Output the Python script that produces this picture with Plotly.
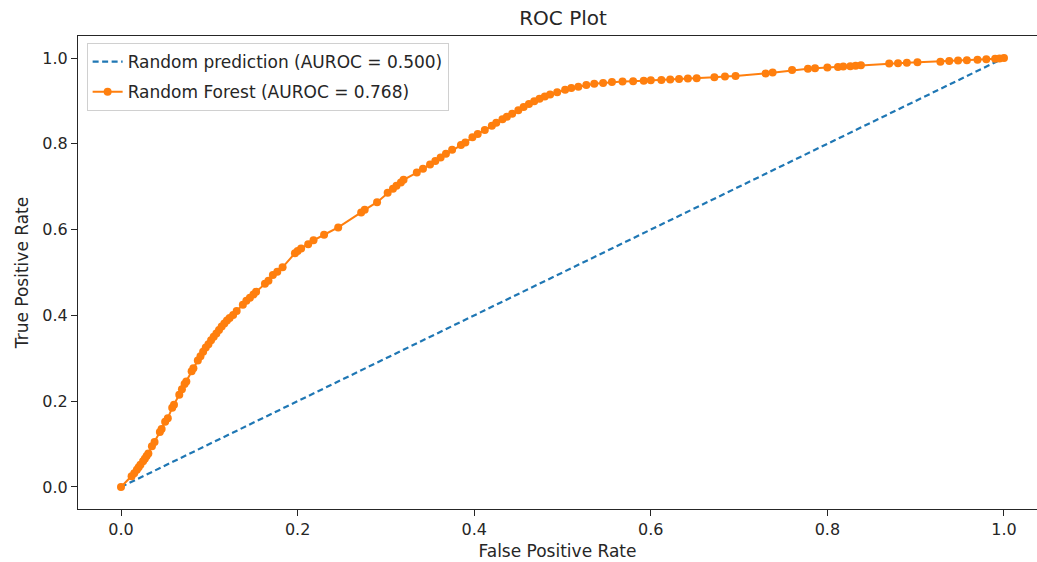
import plotly.graph_objects as go

# Random-prediction baseline
base_fpr = [0.0, 1.0]
base_tpr = [0.0, 1.0]

# Random Forest ROC curve
rf_fpr = [0.000, 0.012, 0.015, 0.018, 0.020, 0.022, 0.025, 0.027, 0.029, 0.031,
          0.035, 0.038, 0.044, 0.046, 0.050, 0.053, 0.058, 0.060, 0.066, 0.069,
          0.072, 0.074, 0.080, 0.082, 0.087, 0.090, 0.093, 0.096, 0.099, 0.102,
          0.105, 0.108, 0.111, 0.114, 0.117, 0.120, 0.123, 0.127, 0.131, 0.138,
          0.142, 0.146, 0.150, 0.153, 0.163, 0.167, 0.172, 0.177, 0.183, 0.197,
          0.200, 0.204, 0.212, 0.218, 0.230, 0.246, 0.272, 0.276, 0.290, 0.302,
          0.308, 0.312, 0.317, 0.320, 0.335, 0.342, 0.350, 0.356, 0.362, 0.368,
          0.375, 0.385, 0.390, 0.398, 0.404, 0.412, 0.420, 0.425, 0.432, 0.437,
          0.443, 0.450, 0.456, 0.462, 0.468, 0.474, 0.480, 0.486, 0.494, 0.503,
          0.510, 0.518, 0.527, 0.536, 0.546, 0.556, 0.568, 0.580, 0.592, 0.600,
          0.612, 0.622, 0.632, 0.642, 0.652, 0.672, 0.684, 0.696, 0.730, 0.738,
          0.760, 0.778, 0.786, 0.800, 0.812, 0.818, 0.826, 0.832, 0.838, 0.870,
          0.880, 0.890, 0.902, 0.928, 0.938, 0.948, 0.958, 0.970, 0.980, 0.990,
          0.995, 1.000]
rf_tpr = [0.000, 0.025, 0.032, 0.040, 0.046, 0.052, 0.060, 0.066, 0.072, 0.078,
          0.095, 0.105, 0.128, 0.135, 0.152, 0.160, 0.185, 0.192, 0.215, 0.228,
          0.240, 0.246, 0.270, 0.277, 0.295, 0.305, 0.315, 0.325, 0.333, 0.342,
          0.350, 0.358, 0.366, 0.374, 0.381, 0.388, 0.394, 0.401, 0.410, 0.425,
          0.434, 0.441, 0.449, 0.455, 0.474, 0.481, 0.494, 0.502, 0.512, 0.545,
          0.550, 0.556, 0.566, 0.575, 0.588, 0.605, 0.640, 0.646, 0.664, 0.686,
          0.695, 0.702, 0.710, 0.716, 0.733, 0.742, 0.752, 0.760, 0.768, 0.777,
          0.786, 0.797, 0.803, 0.815, 0.823, 0.832, 0.842, 0.849, 0.857, 0.863,
          0.870, 0.878, 0.886, 0.893, 0.899, 0.905, 0.910, 0.915, 0.920, 0.926,
          0.930, 0.933, 0.937, 0.940, 0.942, 0.944, 0.945, 0.946, 0.947, 0.948,
          0.949, 0.950, 0.951, 0.952, 0.953, 0.955, 0.957, 0.958, 0.964, 0.966,
          0.972, 0.975, 0.976, 0.978, 0.979, 0.980, 0.981, 0.982, 0.983, 0.987,
          0.988, 0.989, 0.990, 0.991, 0.993, 0.994, 0.995, 0.996, 0.997, 0.998,
          0.999, 1.000]

x_ticks = [0.0, 0.2, 0.4, 0.6, 0.8, 1.0]
y_ticks = [0.0, 0.2, 0.4, 0.6, 0.8, 1.0]
tick_text = ["0.0", "0.2", "0.4", "0.6", "0.8", "1.0"]

FONT = "DejaVu Sans, Verdana, sans-serif"
BLUE = "#1f77b4"
ORANGE = "#ff7f0e"
INK = "#262626"

fig = go.Figure()
fig.add_trace(go.Scatter(
    x=base_fpr, y=base_tpr, mode="lines",
    name="Random prediction (AUROC = 0.500)", legendgroup="a",
    line=dict(color=BLUE, width=2.2, dash="6px,3.5px"),
))
fig.add_trace(go.Scatter(
    x=rf_fpr, y=rf_tpr, mode="lines+markers",
    name="Random Forest (AUROC = 0.768)", legendgroup="b",
    line=dict(color=ORANGE, width=2),
    marker=dict(color=ORANGE, size=8),
))

axis_common = dict(
    showgrid=False, zeroline=False, showline=True, linecolor=INK,
    linewidth=1, ticks="outside", ticklen=6, tickwidth=1, tickcolor=INK,
    tickfont=dict(family=FONT, size=16, color=INK),
)

fig.update_layout(
    width=1037, height=562,
    margin=dict(l=78, r=0, t=36, b=53),
    paper_bgcolor="white", plot_bgcolor="white",
    title=dict(text="ROC Plot", x=563 / 1037, xanchor="center", y=1 - 18 / 562,
               yanchor="middle", font=dict(family=FONT, size=20, color=INK)),
    xaxis=dict(range=[-0.0487, 1.0374], tickvals=x_ticks, ticktext=tick_text,
               mirror=True,
               title=dict(text="False Positive Rate", standoff=6,
                          font=dict(family=FONT, size=17, color=INK)),
               **axis_common),
    yaxis=dict(range=[-0.0513, 1.0513], tickvals=y_ticks, ticktext=tick_text,
               title=dict(text="True Positive Rate", standoff=9,
                          font=dict(family=FONT, size=17, color=INK)),
               **axis_common),
    legend=dict(x=0.009, y=0.985, xanchor="left", yanchor="top",
                bgcolor="rgba(255,255,255,0.8)", bordercolor="#d0d0d0",
                borderwidth=1, font=dict(family=FONT, size=17, color=INK),
                itemwidth=30, tracegroupgap=5),
    showlegend=True,
)

fig.write_html("out.html")
